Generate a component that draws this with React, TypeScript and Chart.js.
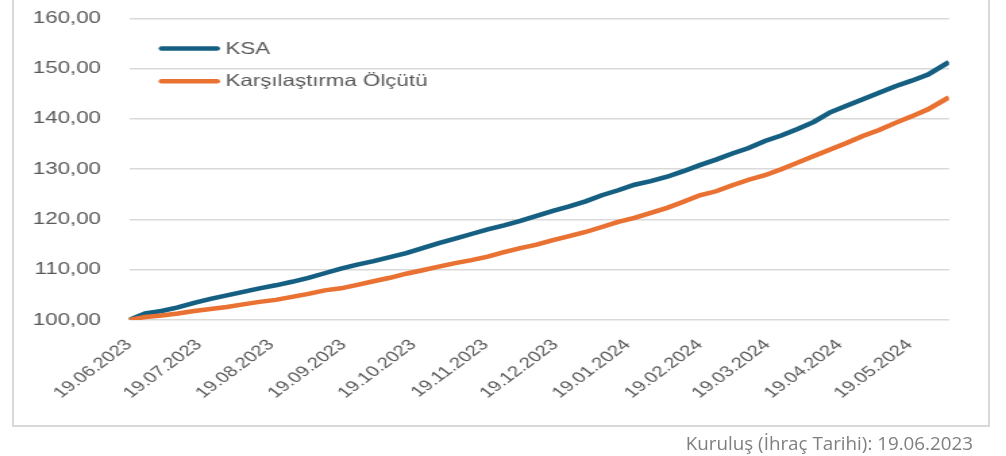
import React, { useEffect, useRef } from "react";
import { Chart, registerables } from "chart.js";

Chart.register(...registerables);

// ---- data ----
const startDate = "19.06.2023";

const pointDates = [
  "19.06.2023", "26.06.2023", "03.07.2023", "10.07.2023", "17.07.2023", "24.07.2023", "31.07.2023",
  "07.08.2023", "14.08.2023", "21.08.2023", "28.08.2023", "04.09.2023", "11.09.2023", "18.09.2023",
  "25.09.2023", "02.10.2023", "09.10.2023", "16.10.2023", "23.10.2023", "30.10.2023", "06.11.2023",
  "13.11.2023", "20.11.2023", "27.11.2023", "04.12.2023", "11.12.2023", "18.12.2023", "25.12.2023",
  "01.01.2024", "08.01.2024", "15.01.2024", "22.01.2024", "29.01.2024", "05.02.2024", "12.02.2024",
  "19.02.2024", "26.02.2024", "04.03.2024", "11.03.2024", "18.03.2024", "25.03.2024", "01.04.2024",
  "08.04.2024", "15.04.2024", "22.04.2024", "29.04.2024", "06.05.2024", "13.05.2024", "20.05.2024",
  "27.05.2024", "05.06.2024",
];

const ksaValues = [
  100.0, 101.3, 101.8, 102.5, 103.4, 104.2, 104.9,
  105.6, 106.3, 106.9, 107.6, 108.4, 109.3, 110.2,
  111.0, 111.7, 112.5, 113.3, 114.3, 115.3, 116.2,
  117.1, 118.0, 118.8, 119.7, 120.7, 121.7, 122.6,
  123.6, 124.8, 125.8, 126.9, 127.6, 128.5, 129.6,
  130.8, 131.9, 133.1, 134.2, 135.6, 136.7, 138.0,
  139.4, 141.3, 142.6, 143.9, 145.2, 146.5, 147.6,
  148.8, 151.3,
];

const benchmarkValues = [
  100.0, 100.6, 100.9, 101.3, 101.8, 102.2, 102.6,
  103.1, 103.6, 104.0, 104.6, 105.2, 105.9, 106.3,
  107.0, 107.7, 108.4, 109.2, 109.9, 110.6, 111.3,
  111.9, 112.6, 113.5, 114.3, 115.0, 115.9, 116.7,
  117.5, 118.5, 119.5, 120.3, 121.3, 122.3, 123.5,
  124.8, 125.6, 126.8, 127.9, 128.8, 130.0, 131.3,
  132.6, 133.9, 135.2, 136.6, 137.8, 139.2, 140.5,
  141.9, 144.3,
];

const tickLabels = [
  "19.06.2023", "19.07.2023", "19.08.2023", "19.09.2023", "19.10.2023", "19.11.2023",
  "19.12.2023", "19.01.2024", "19.02.2024", "19.03.2024", "19.04.2024", "19.05.2024",
];

const seriesNames = ["KSA", "Karşılaştırma Ölçütü"];
const seriesColors = ["#156082", "#E97132"];
const footerText = "Kuruluş (İhraç Tarihi): 19.06.2023";

// ---- helpers ----
function dayIndex(s: string): number {
  const [d, m, y] = s.split(".").map(Number);
  const [d0, m0, y0] = startDate.split(".").map(Number);
  return Math.round((Date.UTC(y, m - 1, d) - Date.UTC(y0, m0 - 1, d0)) / 86400000);
}

const STRETCH = 1006 / 745;
const FONT = "'Liberation Sans', Arial, sans-serif";
const PLOT_BOTTOM = 320;

const legendPlugin = {
  id: "insideLegend",
  afterDatasetsDraw(chart: any) {
    const ctx = chart.ctx;
    ctx.save();
    const x0 = 119.7;
    const x1 = 160.7;
    const tx = 167.1;
    const ys = [48.5, 81.3];
    chart.data.datasets.forEach((ds: any, i: number) => {
      const y = ys[i];
      ctx.beginPath();
      ctx.lineCap = "round";
      ctx.lineWidth = 4.5;
      ctx.strokeStyle = ds.borderColor;
      ctx.moveTo(x0, y);
      ctx.lineTo(x1, y);
      ctx.stroke();
      ctx.fillStyle = "#595959";
      ctx.font = `16.5px ${FONT}`;
      ctx.textBaseline = "middle";
      ctx.textAlign = "left";
      ctx.fillText(ds.label, tx, y + 0.5);
    });
    ctx.restore();
  },
};

export default function App() {
  const canvasRef = useRef<HTMLCanvasElement | null>(null);

  useEffect(() => {
    if (!canvasRef.current) return;
    const tickDays = tickLabels.map(dayIndex);
    const labelByDay: Record<number, string> = {};
    tickLabels.forEach((l, i) => (labelByDay[tickDays[i]] = l));
    const xs = pointDates.map(dayIndex);
    const maxDay = xs[xs.length - 1];

    const chart = new Chart(canvasRef.current, {
      type: "line",
      data: {
        datasets: [
          {
            label: seriesNames[0],
            data: xs.map((x, i) => ({ x, y: ksaValues[i] })),
            borderColor: seriesColors[0],
            backgroundColor: seriesColors[0],
            borderWidth: 4.5,
            pointRadius: 0,
            tension: 0,
            order: 1,
          },
          {
            label: seriesNames[1],
            data: xs.map((x, i) => ({ x, y: benchmarkValues[i] })),
            borderColor: seriesColors[1],
            backgroundColor: seriesColors[1],
            borderWidth: 4.5,
            pointRadius: 0,
            tension: 0,
            order: 0,
          },
        ],
      },
      options: {
        animation: false,
        responsive: true,
        maintainAspectRatio: false,
        layout: { padding: { top: 18.3, right: 42.2, bottom: 0, left: 0 } },
        plugins: {
          legend: { display: false },
          tooltip: { enabled: false },
          title: { display: false },
        },
        scales: {
          x: {
            type: "linear",
            min: 0,
            max: maxDay,
            grid: { display: false },
            border: { display: false },
            afterBuildTicks: (scale: any) => {
              scale.ticks = tickDays.map((value) => ({ value }));
            },
            afterFit: (scale: any) => {
              scale.height = 456 - PLOT_BOTTOM;
            },
            ticks: {
              autoSkip: false,
              minRotation: 45,
              maxRotation: 45,
              padding: 8,
              color: "#595959",
              font: { family: FONT, size: 15 },
              callback: (value: any) => labelByDay[value as number] ?? "",
            },
          },
          y: {
            min: 100,
            max: 160,
            grid: { color: "#d9d9d9", lineWidth: 1.5, drawTicks: false },
            border: { display: false },
            afterFit: (scale: any) => {
              scale.width = 95.5;
              scale.paddingTop = 0;
              scale.paddingBottom = 0;
            },
            ticks: {
              stepSize: 10,
              padding: 20.7,
              color: "#595959",
              font: { family: FONT, size: 16.5 },
              callback: (value: any) => Number(value).toFixed(2).replace(".", ","),
            },
          },
        },
      },
      plugins: [legendPlugin],
    });
    return () => chart.destroy();
  }, []);

  return (
    <div
      style={{
        position: "fixed",
        left: 0,
        top: 0,
        width: 1006,
        height: 456,
        overflow: "hidden",
        background: "#ffffff",
      }}
    >
      <div
        style={{
          position: "absolute",
          left: 12,
          top: -10,
          width: 978,
          height: 437,
          border: "2px solid #d9d9d9",
          boxSizing: "border-box",
        }}
      />
      <div
        style={{
          position: "absolute",
          left: 0,
          top: 0,
          width: 745,
          height: 456,
          transform: `scaleX(${STRETCH})`,
          transformOrigin: "0 0",
        }}
      >
        <canvas ref={canvasRef} />
      </div>
      <div
        style={{
          position: "absolute",
          right: 33,
          top: 431,
          fontFamily: "'Open Sans', sans-serif",
          fontSize: 18.8,
          lineHeight: "24px",
          color: "#7f7f7f",
          whiteSpace: "nowrap",
        }}
      >
        {footerText}
      </div>
    </div>
  );
}
